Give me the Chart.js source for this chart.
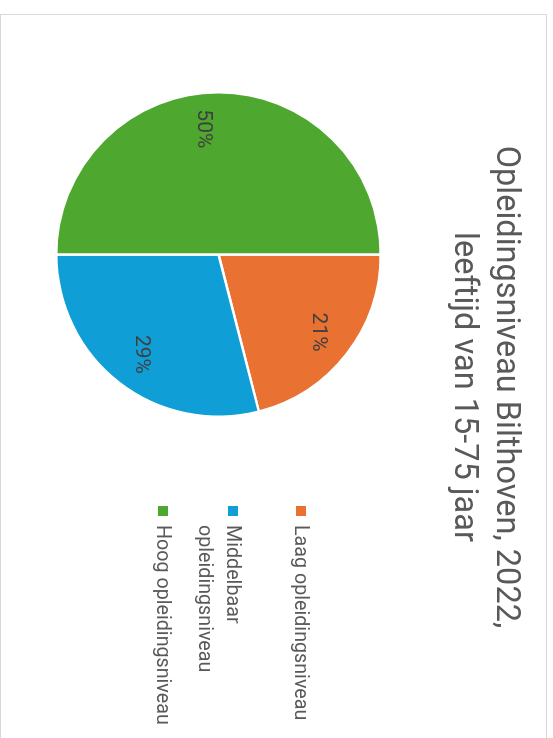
<!DOCTYPE html>
<html>
<head>
<meta charset="utf-8">
<script src="https://cdn.jsdelivr.net/npm/chart.js@4.4.1/dist/chart.umd.min.js"></script>
<style>
  html, body { margin: 0; padding: 0; overflow: hidden; background: #fff; }
  /* sheet frame, the chart inside is turned a quarter clockwise */
  #frame { position: absolute; left: 0; top: 14px; width: 547px; height: 760px; box-sizing: border-box;
           border: 1px solid #d9d9d9; border-bottom: none; overflow: hidden; }
  #sheet { position: absolute; left: 0; top: 0; width: 760px; height: 545px;
           transform-origin: 0 0; transform: translateX(545px) rotate(90deg);
           font-family: Roboto, "Liberation Sans", sans-serif; }
  #pie { position: absolute; left: 0; top: 0; }
  #title { position: absolute; left: 72px; top: 17px; width: 600px; text-align: center;
           font-size: 32.5px; line-height: 42px; color: #595959; }
  .legend-item { position: absolute; left: 491px; width: 250px; color: #595959; font-size: 19.7px; line-height: 28px; }
  .legend-item .box { position: absolute; left: 0; top: 9px; width: 10px; height: 10px; }
  .legend-item .txt { margin-left: 19px; width: 205px; }
</style>
</head>
<body>
<div id="frame">
  <div id="sheet">
    <canvas id="pie" width="760" height="545"></canvas>
    <div id="title"></div>
    <div id="legend"></div>
  </div>
</div>
<script>
// data
const categories = ["Laag opleidingsniveau", "Middelbaar opleidingsniveau", "Hoog opleidingsniveau"];
const shares = [21, 29, 50];
const sliceColors = ["#E97132", "#0F9ED5", "#4EA72E"];
const titleLines = ["Opleidingsniveau Bilthoven, 2022,", "leeftijd van 15-75 jaar"];

// title + legend (html)
document.getElementById("title").innerHTML = titleLines.join("<br>");

const legendTops = [231, 299, 369];
const legendBox = document.getElementById("legend");
categories.forEach((name, i) => {
  const item = document.createElement("div");
  item.className = "legend-item";
  item.style.top = legendTops[i] + "px";
  item.innerHTML = '<span class="box" style="background:' + sliceColors[i] + '"></span><div class="txt">' + name + "</div>";
  legendBox.appendChild(item);
});

// percentage labels inside the slices (small angle nudge like excel's best fit)
const labelNudge = [0, 0, -0.12];
const pctLabels = {
  id: "pctLabels",
  afterDatasetsDraw(chart) {
    const ctx = chart.ctx;
    const total = shares.reduce((a, b) => a + b, 0);
    ctx.save();
    ctx.font = "21px Roboto, 'Liberation Sans', sans-serif";
    ctx.fillStyle = "#404040";
    ctx.textAlign = "center";
    ctx.textBaseline = "middle";
    chart.getDatasetMeta(0).data.forEach((arc, i) => {
      const p = arc.getProps(["x", "y", "startAngle", "endAngle", "outerRadius"]);
      const mid = (p.startAngle + p.endAngle) / 2 + labelNudge[i];
      const r = p.outerRadius * 0.78;
      ctx.fillText(Math.round(shares[i] / total * 100) + "%", p.x + Math.cos(mid) * r, p.y + Math.sin(mid) * r);
    });
    ctx.restore();
  }
};

const ctx = document.getElementById("pie").getContext("2d");
new Chart(ctx, {
  type: "pie",
  data: {
    labels: categories,
    datasets: [{
      data: shares,
      backgroundColor: sliceColors,
      borderColor: "#ffffff",
      borderWidth: 2.5
    }]
  },
  options: {
    responsive: false,
    animation: false,
    devicePixelRatio: 1,
    layout: { padding: { left: 76, top: 164, right: 357, bottom: 54 } },
    plugins: {
      legend: { display: false },
      title: { display: false },
      tooltip: { enabled: false }
    }
  },
  plugins: [pctLabels]
});
</script>
</body>
</html>
